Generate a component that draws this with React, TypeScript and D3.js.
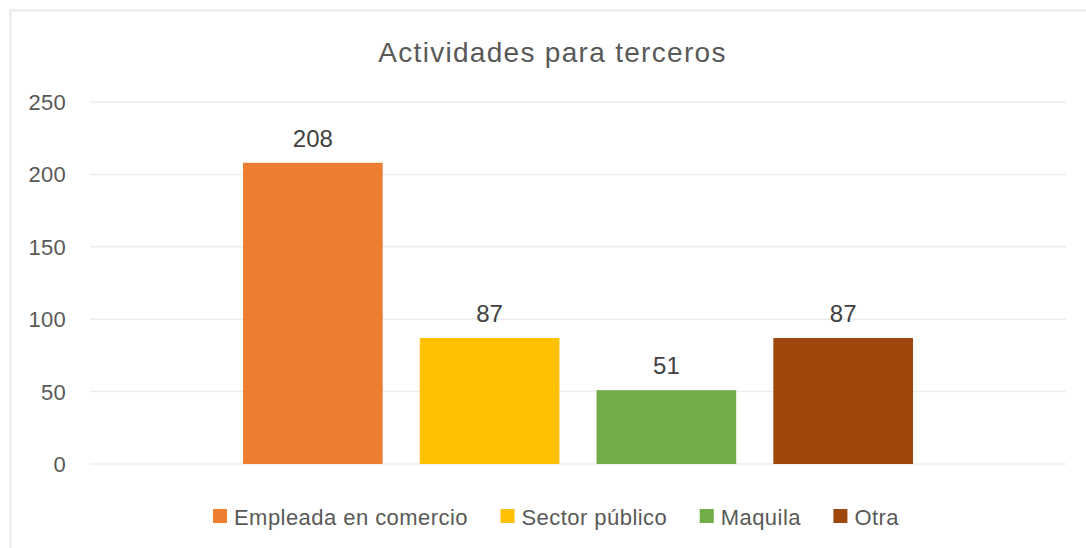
import React, { useEffect, useRef } from "react";
import * as d3 from "d3";

const title = "Actividades para terceros";
const seriesNames = ["Empleada en comercio", "Sector público", "Maquila", "Otra"];
const seriesValues = [208, 87, 51, 87];
const seriesColors = ["#ED7D31", "#FFC000", "#70AD47", "#9E480E"];
const yTicks = [0, 50, 100, 150, 200, 250];

const W = 1086;
const H = 548;
const FONT = "'Liberation Sans', Arial, sans-serif";

export default function App() {
  const ref = useRef<SVGSVGElement>(null);

  useEffect(() => {
    const svg = d3.select(ref.current);
    svg.selectAll("*").remove();

    svg.append("rect").attr("x", 0).attr("y", 0).attr("width", W).attr("height", H).attr("fill", "#fff");
    svg.append("rect")
      .attr("x", 10.5).attr("y", 10.5).attr("width", 1120).attr("height", 580)
      .attr("fill", "#fff").attr("stroke", "#efefef").attr("stroke-width", 3);

    const plotLeft = 90, plotRight = 1066;
    const y = d3.scaleLinear().domain([0, 250]).range([464, 102]);

    const x0 = d3.scaleBand<string>().domain(["g"]).range([plotLeft, plotRight]).paddingInner(0).paddingOuter(0.2284);
    const x1 = d3.scaleBand<string>().domain(seriesNames)
      .range([x0("g")!, x0("g")! + x0.bandwidth()]).paddingInner(0.21).paddingOuter(0);

    // gridlines
    svg.append("g").selectAll("line").data(yTicks).join("line")
      .attr("x1", plotLeft).attr("x2", plotRight)
      .attr("y1", d => y(d)).attr("y2", d => y(d))
      .attr("stroke", "#ededed").attr("stroke-width", 1.5);

    // y labels
    svg.append("g").selectAll("text").data(yTicks).join("text")
      .attr("x", 66).attr("y", d => y(d)).attr("dy", "0.36em")
      .attr("text-anchor", "end").attr("font-family", FONT).attr("font-size", 22)
      .attr("letter-spacing", 0.3)
      .attr("fill", "#595959").text(d => String(d));

    // bars
    svg.append("g").selectAll("rect").data(seriesNames).join("rect")
      .attr("x", d => x1(d)!).attr("width", x1.bandwidth())
      .attr("y", (d, i) => y(seriesValues[i]))
      .attr("height", (d, i) => y(0) - y(seriesValues[i]))
      .attr("fill", (d, i) => seriesColors[i]);

    // value labels
    svg.append("g").selectAll("text").data(seriesNames).join("text")
      .attr("x", d => x1(d)! + x1.bandwidth() / 2)
      .attr("y", (d, i) => y(seriesValues[i]) - 16)
      .attr("text-anchor", "middle").attr("font-family", FONT).attr("font-size", 24)
      .attr("fill", "#404040").text((d, i) => String(seriesValues[i]));

    // title
    svg.append("text").attr("x", 552.5).attr("y", 62)
      .attr("text-anchor", "middle").attr("font-family", FONT).attr("font-size", 28)
      .attr("letter-spacing", 1.3)
      .attr("fill", "#595959").text(title);

    // legend
    const lg = svg.append("g");
    const sq = 14, gapText = 7, gapItem = 32.5;
    const items = seriesNames.map((name, i) => {
      const g = lg.append("g");
      g.append("rect").attr("width", sq).attr("height", sq).attr("y", 509).attr("fill", seriesColors[i]);
      const t = g.append("text").attr("x", sq + gapText).attr("y", 525)
        .attr("font-family", FONT).attr("font-size", 22).attr("letter-spacing", 0.45)
        .attr("fill", "#595959").text(name);
      const w = (t.node() as SVGTextElement).getComputedTextLength();
      return { g, width: sq + gapText + w };
    });
    const total = d3.sum(items, d => d.width) + gapItem * (items.length - 1);
    let cx = 556 - total / 2;
    items.forEach(it => {
      it.g.attr("transform", `translate(${cx},0)`);
      cx += it.width + gapItem;
    });
  }, []);

  return (
    <svg ref={ref} width={W} height={H}
      style={{ position: "absolute", left: 0, top: 0, display: "block" }} />
  );
}
